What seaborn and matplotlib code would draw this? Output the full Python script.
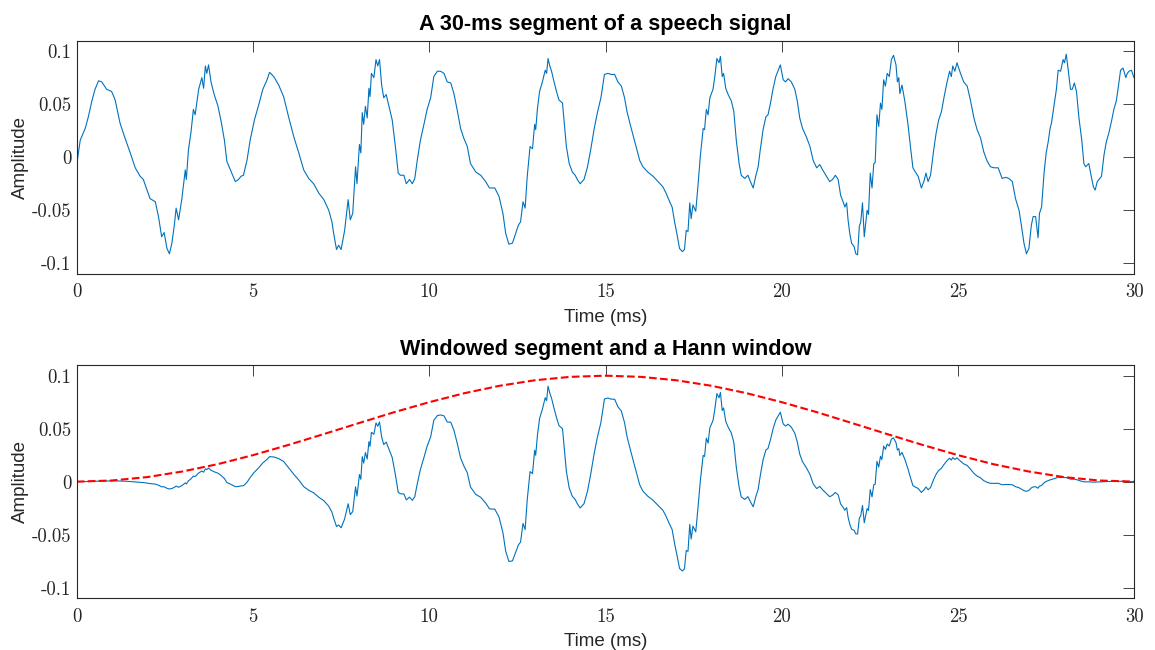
import numpy as np
import pandas as pd
import matplotlib
matplotlib.use("Agg")
import matplotlib.pyplot as plt
import seaborn as sns

# ---- data (time in ms, amplitude) ----
seg1_t = [0.00, 0.10, 0.24, 0.33, 0.43, 0.52, 0.62, 0.71, 0.85, 0.99, 1.09, 1.23, 1.37, 1.52, 1.66, 1.80, 1.89,
          2.08, 2.23, 2.32, 2.41, 2.48, 2.56, 2.63, 2.70, 2.77, 2.82, 2.89, 2.98, 3.08, 3.11, 3.17, 3.24, 3.31,
          3.36, 3.46, 3.55, 3.60, 3.65, 3.69, 3.74, 3.81, 3.90, 4.00, 4.09, 4.19, 4.26, 4.40, 4.50, 4.59, 4.66,
          4.73, 4.83, 4.92, 5.04, 5.16, 5.28, 5.40, 5.47, 5.59, 5.73, 5.87, 6.01, 6.16, 6.30, 6.44, 6.58, 6.72,
          6.87, 7.01, 7.15, 7.24, 7.29, 7.37, 7.43, 7.50]
seg1_a = [-0.007, 0.016, 0.027, 0.038, 0.053, 0.064, 0.072, 0.071, 0.064, 0.062, 0.054, 0.032, 0.018, 0.004,
          -0.010, -0.018, -0.021, -0.039, -0.042, -0.056, -0.075, -0.071, -0.086, -0.091, -0.081, -0.064, -0.048,
          -0.059, -0.040, -0.012, -0.021, 0.007, 0.023, 0.045, 0.040, 0.064, 0.075, 0.065, 0.086, 0.079, 0.087,
          0.071, 0.059, 0.049, 0.035, 0.016, -0.004, -0.015, -0.023, -0.021, -0.018, -0.017, -0.003, 0.016, 0.035,
          0.049, 0.064, 0.073, 0.080, 0.076, 0.068, 0.057, 0.038, 0.019, 0.004, -0.012, -0.020, -0.025, -0.034,
          -0.040, -0.050, -0.061, -0.072, -0.087, -0.083, -0.087]

seg2_t = [7.60, 7.70, 7.76, 7.83, 7.91, 7.95, 8.02, 8.06, 8.10, 8.14, 8.19, 8.24, 8.29, 8.32, 8.36, 8.43, 8.49,
          8.54, 8.59, 8.65, 8.71, 8.78, 8.85, 8.95, 9.04, 9.12, 9.18, 9.28, 9.35, 9.44, 9.52, 9.59, 9.66, 9.75,
          9.85, 9.94, 10.04, 10.13, 10.23, 10.32, 10.42, 10.51, 10.61, 10.70, 10.79, 10.89, 10.98, 11.08, 11.17,
          11.32, 11.46, 11.60, 11.71, 11.86, 11.98, 12.09, 12.17, 12.26, 12.36, 12.45, 12.53, 12.59, 12.66, 12.72,
          12.78, 12.86, 12.93, 12.99, 13.02, 13.07, 13.13, 13.21, 13.29, 13.33, 13.37, 13.42, 13.47, 13.54, 13.61,
          13.68, 13.78, 13.83, 13.89, 13.97, 14.06, 14.14, 14.20, 14.28, 14.39, 14.49, 14.58, 14.68, 14.77, 14.87]
seg2_a = [-0.069, -0.040, -0.059, -0.053, -0.009, -0.025, 0.012, 0.004, 0.042, 0.031, 0.048, 0.037, 0.065, 0.057,
          0.079, 0.075, 0.092, 0.086, 0.092, 0.068, 0.056, 0.059, 0.049, 0.035, 0.010, -0.015, -0.017, -0.017,
          -0.025, -0.021, -0.025, -0.020, -0.003, 0.016, 0.031, 0.045, 0.056, 0.076, 0.081, 0.081, 0.079, 0.071,
          0.070, 0.060, 0.045, 0.027, 0.018, 0.010, -0.006, -0.014, -0.017, -0.023, -0.029, -0.029, -0.037, -0.053,
          -0.072, -0.082, -0.081, -0.072, -0.064, -0.061, -0.042, -0.048, -0.018, 0.010, 0.008, 0.031, 0.026,
          0.046, 0.062, 0.071, 0.082, 0.079, 0.093, 0.086, 0.081, 0.071, 0.062, 0.054, 0.051, 0.032, 0.010, -0.006,
          -0.014, -0.017, -0.021, -0.025, -0.021, -0.009, 0.007, 0.027, 0.042, 0.056]

seg3_t = [14.97, 15.07, 15.16, 15.26, 15.35, 15.45, 15.54, 15.61, 15.70, 15.78, 15.87, 15.97, 16.06, 16.20, 16.35,
          16.49, 16.63, 16.72, 16.82, 16.89, 16.96, 17.03, 17.10, 17.18, 17.24, 17.29, 17.34, 17.39, 17.43, 17.48,
          17.56, 17.62, 17.69, 17.77, 17.81, 17.86, 17.91, 17.96, 18.05, 18.10, 18.16, 18.22, 18.26, 18.31, 18.35,
          18.41, 18.48, 18.57, 18.64, 18.71, 18.79, 18.85, 18.95, 19.04, 19.11, 19.19, 19.26, 19.33, 19.39, 19.47,
          19.55, 19.61, 19.68, 19.75, 19.83, 19.90, 19.96, 20.04, 20.11, 20.18, 20.27, 20.37, 20.44, 20.51, 20.59,
          20.70, 20.80, 20.89, 20.99, 21.08, 21.16, 21.27, 21.36, 21.44, 21.52, 21.60, 21.67, 21.74, 21.79, 21.84,
          21.88, 21.93, 21.98, 22.05, 22.10, 22.15, 22.20, 22.24, 22.29, 22.34]
seg3_a = [0.078, 0.079, 0.078, 0.078, 0.071, 0.067, 0.056, 0.043, 0.031, 0.021, 0.010, -0.003, -0.009, -0.014,
          -0.018, -0.023, -0.028, -0.034, -0.042, -0.047, -0.061, -0.073, -0.086, -0.089, -0.087, -0.069, -0.070,
          -0.043, -0.058, -0.045, -0.051, -0.028, 0.001, 0.027, 0.026, 0.045, 0.040, 0.056, 0.064, 0.076, 0.093,
          0.089, 0.095, 0.076, 0.079, 0.065, 0.059, 0.053, 0.043, 0.016, -0.006, -0.017, -0.020, -0.017, -0.023,
          -0.029, -0.018, -0.009, 0.007, 0.026, 0.038, 0.040, 0.051, 0.064, 0.076, 0.082, 0.087, 0.073, 0.071,
          0.074, 0.071, 0.064, 0.053, 0.037, 0.027, 0.019, 0.010, -0.003, -0.010, -0.007, -0.012, -0.018, -0.023,
          -0.021, -0.017, -0.021, -0.036, -0.042, -0.047, -0.043, -0.059, -0.072, -0.081, -0.084, -0.091, -0.092,
          -0.065, -0.061, -0.043, -0.075]

seg4_t = [22.42, 22.46, 22.51, 22.56, 22.61, 22.65, 22.70, 22.75, 22.80, 22.84, 22.89, 22.94, 22.99, 23.05, 23.11,
          23.17, 23.24, 23.28, 23.32, 23.35, 23.41, 23.49, 23.58, 23.65, 23.72, 23.79, 23.87, 23.96, 24.03, 24.09,
          24.15, 24.22, 24.31, 24.38, 24.45, 24.53, 24.60, 24.69, 24.76, 24.81, 24.85, 24.91, 24.97, 25.07, 25.16,
          25.26, 25.35, 25.45, 25.54, 25.64, 25.73, 25.83, 25.92, 26.02, 26.14, 26.25, 26.35, 26.44, 26.54, 26.63,
          26.73, 26.80, 26.87, 26.94, 27.01, 27.08, 27.13, 27.20, 27.27, 27.31, 27.37, 27.44, 27.50, 27.56, 27.61,
          27.65, 27.72, 27.79, 27.84, 27.91, 27.98, 28.02, 28.07, 28.13, 28.19, 28.24, 28.30, 28.36, 28.43, 28.51,
          28.57, 28.62, 28.71, 28.79, 28.84, 28.89, 28.95, 29.07, 29.14, 29.21, 29.28, 29.36, 29.42, 29.49, 29.55,
          29.61, 29.68, 29.76, 29.80, 29.85, 29.92, 29.99]
seg4_a = [-0.050, -0.054, -0.015, -0.029, -0.006, -0.005, 0.040, 0.029, 0.051, 0.045, 0.073, 0.067, 0.079, 0.076,
          0.092, 0.096, 0.087, 0.071, 0.075, 0.060, 0.068, 0.053, 0.031, 0.010, -0.010, -0.014, -0.018, -0.029,
          -0.023, -0.015, -0.023, -0.017, 0.007, 0.023, 0.035, 0.043, 0.056, 0.071, 0.081, 0.076, 0.086, 0.081,
          0.089, 0.079, 0.071, 0.067, 0.054, 0.037, 0.026, 0.018, 0.005, -0.004, -0.009, -0.010, -0.010, -0.020,
          -0.019, -0.020, -0.023, -0.039, -0.050, -0.065, -0.081, -0.091, -0.086, -0.064, -0.056, -0.056, -0.076,
          -0.053, -0.047, -0.015, 0.004, 0.015, 0.027, 0.032, 0.048, 0.064, 0.082, 0.081, 0.092, 0.089, 0.097,
          0.081, 0.064, 0.064, 0.070, 0.062, 0.037, 0.016, -0.006, -0.009, -0.006, -0.020, -0.028, -0.031, -0.023,
          -0.018, 0.002, 0.015, 0.023, 0.035, 0.045, 0.053, 0.067, 0.082, 0.084, 0.075, 0.079, 0.081, 0.082, 0.075]

# Hann window curve (red dashed), read at 1-ms steps
hann_t = list(range(0, 31))
hann_v = [0.0, 0.0011, 0.0043, 0.0096, 0.0165, 0.025, 0.0346, 0.0448, 0.0552, 0.0655, 0.075, 0.0835, 0.0905,
          0.0957, 0.0989, 0.1, 0.0989, 0.0957, 0.0905, 0.0835, 0.075, 0.0655, 0.0552, 0.0448, 0.0346, 0.025,
          0.0165, 0.0096, 0.0043, 0.0011, 0.0]

y_ticks = [-0.1, -0.05, 0, 0.05, 0.1]
y_tick_labels = ["-0.1", "-0.05", "0", "0.05", "0.1"]
x_ticks = [0, 5, 10, 15, 20, 25, 30]
x_tick_labels = ["0", "5", "10", "15", "20", "25", "30"]

titles = ["A 30-ms segment of a speech signal", "Windowed segment and a Hann window"]
x_label = "Time (ms)"
y_label = "Amplitude"

# ---- assemble ----
t = np.array(seg1_t + seg2_t + seg3_t + seg4_t)
a = np.array(seg1_a + seg2_a + seg3_a + seg4_a)
win = np.interp(t, hann_t, hann_v) / max(hann_v)
sig_df = pd.DataFrame({"t": t, "a": a, "w": a * win})
hann_df = pd.DataFrame({"t": hann_t, "v": hann_v})

sns.set_style("white")
plt.rcParams["font.family"] = ["Liberation Sans", "DejaVu Sans"]
plt.rcParams["axes.unicode_minus"] = False

AX_COL = "#262626"
BLUE = "#0072BD"
RED = "#FF0000"

fig = plt.figure(figsize=(11.55, 6.5), dpi=100)
W, H = 1155, 650
ax1 = fig.add_axes([76.7 / W, (H - 273.7) / H, 1057.6 / W, 233.0 / H])
ax2 = fig.add_axes([76.7 / W, (H - 598.0) / H, 1057.6 / W, 232.7 / H])

sns.lineplot(data=sig_df, x="t", y="a", ax=ax1, color=BLUE, linewidth=0.8, estimator=None, sort=False)
sns.lineplot(data=sig_df, x="t", y="w", ax=ax2, color=BLUE, linewidth=0.8, estimator=None, sort=False)
sns.lineplot(data=hann_df, x="t", y="v", ax=ax2, color=RED, linewidth=1.5, linestyle="--",
             estimator=None, sort=False)

for ax, title in zip([ax1, ax2], titles):
    ax.set_xlim(0, 30)
    ax.set_ylim(-0.1098, 0.1098)
    ax.set_xticks(x_ticks)
    ax.set_xticklabels(x_tick_labels, fontfamily="cmr10", fontsize=13.5, color=AX_COL)
    ax.set_yticks(y_ticks)
    ax.set_yticklabels(y_tick_labels, fontfamily="cmr10", fontsize=13.5, color=AX_COL)
    ax.tick_params(axis="both", direction="in", top=True, right=True, length=7.7, width=0.6,
                   color=AX_COL)
    ax.tick_params(axis="x", pad=7)
    ax.tick_params(axis="y", pad=4)
    for sp in ax.spines.values():
        sp.set_color(AX_COL)
        sp.set_linewidth(0.8)
        sp.set_visible(True)
    ax.set_title(title, fontsize=15.6, fontweight="bold", color="black", pad=7.5)
    ax.set_xlabel(x_label, fontsize=13.5, color=AX_COL, labelpad=5.5)
    ax.set_ylabel(y_label, fontsize=13.5, color=AX_COL, labelpad=2)

fig.savefig("out.png", dpi=100, facecolor="white")
